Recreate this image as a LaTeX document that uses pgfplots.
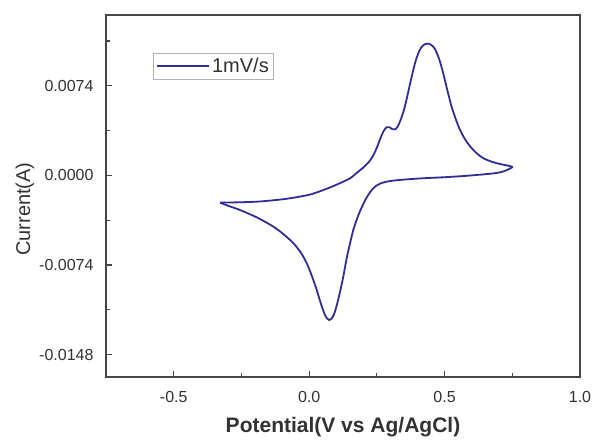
\documentclass[border=0pt]{standalone}
\usepackage{pgfplots}
\pgfplotsset{compat=1.18}
\usepackage{fontspec}
\setmainfont{Liberation Sans}
\definecolor{cvline}{RGB}{50,45,150}
\definecolor{axgray}{RGB}{70,70,70}
\definecolor{txtgray}{RGB}{50,50,50}
\begin{document}
\begin{tikzpicture}[x=1pt,y=1pt]
\path[use as bounding box] (0,0) rectangle (593,441);
\begin{axis}[
  at={(106pt,64pt)}, anchor=south west,
  scale only axis, width=474pt, height=362pt,
  xmin=-0.75, xmax=1.0, ymin=-0.01664, ymax=0.01324,
  axis line style={draw=axgray, line width=1.6pt},
  xtick={-0.5,0,0.5,1.0},
  xticklabels={-0.5,0.0,0.5,1.0},
  minor xtick={-0.25,0.25,0.75},
  ytick={-0.0148,-0.0074,0,0.0074},
  yticklabels={-0.0148,-0.0074,0.0000,0.0074},
  minor ytick={-0.0111,-0.0037,0.0037,0.0111},
  xtick pos=bottom, ytick pos=left,
  tick align=inside,
  major tick length=6pt, minor tick length=4pt,
  tick style={draw=axgray, line width=1.2pt},
  scaled y ticks=false,
  ticklabel style={font=\fontsize{16}{16}\selectfont, text=txtgray},
  xticklabel style={yshift=-11pt},
  yticklabel style={xshift=-9pt},
  xlabel={\textbf{Potential(V vs Ag/AgCl)}},
  ylabel={Current(A)},
  xlabel style={font=\fontsize{21}{21}\selectfont, text=txtgray, yshift=-8pt},
  ylabel style={font=\fontsize{20}{20}\selectfont, text=txtgray, at={(ticklabel cs:0.464)}, yshift=-2pt},
  legend style={at={(0.099,0.895)}, anchor=north west, draw=gray!60, line width=0.8pt,
    font=\fontsize{20}{20}\selectfont, text=txtgray, inner sep=3pt},
  legend image code/.code={\draw[#1] (0pt,0pt) -- (52pt,0pt);},
]
\addplot[cvline, line width=1.8pt, smooth, tension=0.5] coordinates {
(-0.329,-0.00225) (-0.30,-0.00224) (-0.26,-0.00222) (-0.194,-0.00217) (-0.13,-0.00205)
(-0.071,-0.00189) (0.0,-0.00160) (0.052,-0.00121) (0.10,-0.00078)
(0.151,-0.00024) (0.175,0.00020) (0.20,0.00065) (0.222,0.00115) (0.238,0.00170)
(0.251,0.00235) (0.263,0.00305) (0.275,0.00366) (0.286,0.00398) (0.296,0.00398)
(0.307,0.00382) (0.318,0.00380) (0.328,0.00408) (0.338,0.00460) (0.350,0.00540)
(0.362,0.00650) (0.375,0.00780) (0.390,0.00920) (0.405,0.01020) (0.420,0.01072)
(0.436,0.01088) (0.450,0.01078) (0.464,0.01045) (0.480,0.00960) (0.495,0.00843)
(0.510,0.00705) (0.526,0.00567) (0.542,0.00460) (0.557,0.00375) (0.575,0.00300)
(0.594,0.00240) (0.620,0.00180) (0.643,0.00142) (0.675,0.00112) (0.705,0.00094)
(0.735,0.00080) (0.752,0.00070)
};
\addlegendentry{1mV/s}
\addplot[cvline, line width=1.8pt, smooth, tension=0.5, forget plot] coordinates {
(0.752,0.00070) (0.728,0.00042) (0.692,0.00020) (0.60,0.00000)
(0.508,-0.00014) (0.41,-0.00025) (0.323,-0.00040) (0.285,-0.00052) (0.262,-0.00068)
(0.245,-0.00090) (0.232,-0.00118) (0.220,-0.00155) (0.208,-0.00200) (0.196,-0.00255)
(0.185,-0.00310) (0.175,-0.00370) (0.163,-0.00450) (0.151,-0.00560) (0.138,-0.00690)
(0.126,-0.00836) (0.113,-0.00970) (0.102,-0.01072) (0.092,-0.01145) (0.082,-0.01184)
(0.074,-0.01194) (0.066,-0.01180) (0.058,-0.01150) (0.048,-0.01090) (0.038,-0.01020)
(0.028,-0.00946) (0.010,-0.00830) (-0.009,-0.00725) (-0.030,-0.00640) (-0.058,-0.00560)
(-0.095,-0.00485) (-0.132,-0.00423) (-0.19,-0.00350) (-0.255,-0.00286) (-0.30,-0.00250)
(-0.329,-0.00225)
};
\end{axis}
\end{tikzpicture}
\end{document}
